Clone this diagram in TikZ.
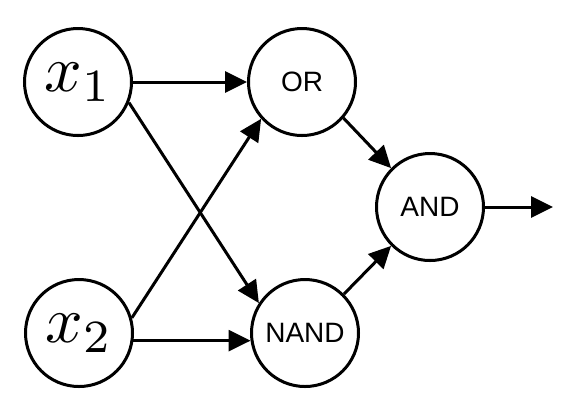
\documentclass[tikz,border=0pt]{standalone}
\usepackage{fontspec}
\newfontfamily\gatefont{Liberation Sans}
\usetikzlibrary{arrows.meta}

\begin{document}
\begin{tikzpicture}[x=0.5pt,y=-0.5pt,
  neuron/.style={circle,draw,line width=1.5pt,minimum size=53.5pt,inner sep=0pt},
  gatelabel/.style={font=\gatefont\fontsize{14}{16}\selectfont},
  wire/.style={line width=1.5pt,-{Triangle[length=11pt,width=10.5pt]}}]
\useasboundingbox (0,0) rectangle (566,409);
\begin{scope}
\node[neuron] (x1) at (78,82) {\scalebox{3.3}{$x_1$}};
\node[neuron] (x2) at (79,333) {\scalebox{3.3}{$x_2$}};
\node[neuron,gatelabel] (or) at (302,82) {OR};
\node[neuron,gatelabel] (nand) at (305,333) {NAND};
\node[neuron,gatelabel] (and) at (430,207) {AND};
\coordinate (out) at (553,207);
\draw[wire] (x1) -- (or);
\draw[wire] (x1.-22) -- (nand.147);
\draw[wire] (x2.16) -- (or.222);
\draw[wire] (x2.-8) -- (nand.188);
\draw[wire] (or.-41) -- (and.135);
\draw[wire] (nand.45) -- (and.225);
\draw[wire] (and) -- (out);
\end{scope}
\end{tikzpicture}
\end{document}
